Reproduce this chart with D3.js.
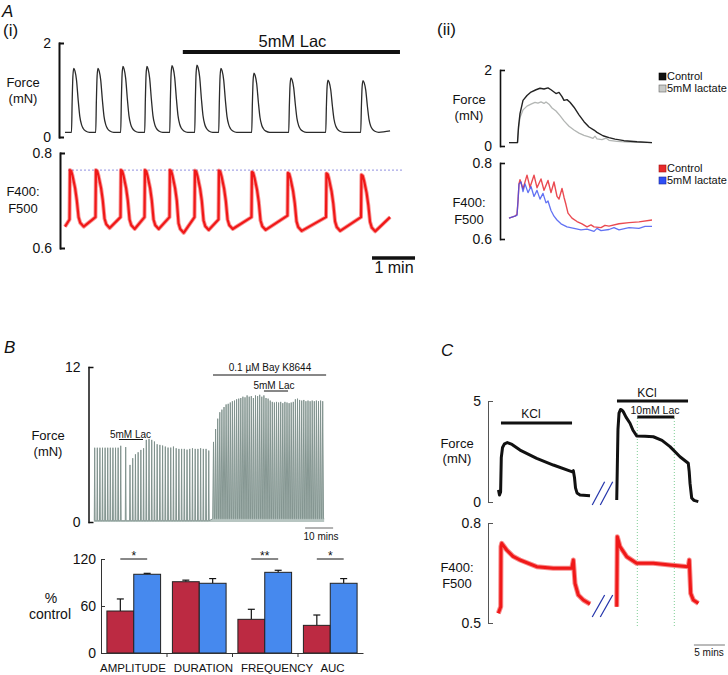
<!DOCTYPE html>
<html><head><meta charset="utf-8">
<script src="https://cdn.jsdelivr.net/npm/d3@7"></script>
<style>body{margin:0;background:#fff}svg{display:block;font-family:"Liberation Sans",Arial,Helvetica,sans-serif}</style>
</head><body><svg id="c" width="728" height="675"></svg>
<script>
// ================= DATA =================
// ---- Panel A(i): force (mN) and F400:F500, time in minutes ----
const aiForceOnsets = [0.151,0.714,1.295,1.853,2.435,3.016,3.574,4.342,5.202,6.063,6.877];
const aiForcePeaks  = [1.46,1.46,1.50,1.50,1.52,1.53,1.46,1.36,1.26,1.21,1.20];
const aiForceBase   = 0.1;
// force pulse shape read from first contraction: [minutes after onset, fraction of peak]
const aiForceShape  = [[0,0],[0.016,0.5],[0.033,0.88],[0.053,1],[0.08,0.96],[0.116,0.82],[0.156,0.5],[0.193,0.25],[0.233,0.12],[0.272,0.06],[0.33,0.02],[0.42,0]];
const aiCaOnsets    = [0.105,0.709,1.291,1.849,2.430,3.012,3.570,4.337,5.174,6.070,6.884];
const aiCaPeaks     = [0.764,0.764,0.764,0.764,0.764,0.763,0.763,0.760,0.758,0.757,0.754];
const aiCaTroughs   = [0.645,0.642,0.640,0.640,0.632,0.638,0.640,0.638,0.636,0.636,0.635];
const aiCaPreOnset  = [0.660,0.665,0.665,0.665,0.665,0.665,0.660,0.665,0.668,0.665,0.665];
const aiCaStart     = 0.645, aiCaEnd = 0.665, aiTraceEnd = 7.56;
const aiCaDecay     = [[0.01,0],[0.04,-0.002],[0.07,-0.012],[0.13,-0.038],[0.17,-0.064]]; // relative to peak
const aiCaFall      = [[0.21,0.02],[0.25,0.008],[0.33,0]];                                 // relative to trough
const aiRefLevel    = 0.764;
const aiLacBar      = [2.74,7.79];
const aiScaleBar    = [7.14,8.14];

// ---- Panel A(ii): single contraction, time in s ----
const aiiForceCtrl = [[0,0.09],[8.5,0.09],[9.5,0.5],[11,0.85],[14,1.2],[18,1.33],[22,1.42],[27,1.48],[31,1.52],[35,1.5],[39,1.53],[42,1.48],[45,1.42],[47,1.38],[50,1.41],[53,1.3],[55,1.2],[58,1.22],[61,1.15],[65,1.02],[70,0.82],[75,0.64],[80,0.5],[85,0.42],[88,0.36],[94,0.27],[100,0.22],[106,0.18],[115,0.14],[128,0.11],[143,0.09]];
const aiiForceLac  = [[0,0.09],[8.5,0.09],[9.5,0.45],[11,0.75],[14,0.95],[18,1.05],[22,1.1],[26,1.15],[29,1.13],[32,1.16],[35,1.12],[37,1.16],[40,1.1],[43,1.0],[47,0.92],[51,0.8],[55,0.66],[60,0.52],[65,0.42],[70,0.34],[75,0.28],[80,0.24],[84,0.2],[86,0.26],[88,0.19],[93,0.17],[97,0.21],[100,0.15],[108,0.12],[120,0.1],[143,0.09]];
const aiiCaCtrl    = [[0,0.655],[6,0.66],[8,0.665],[9,0.70],[10,0.745],[11,0.756],[14,0.732],[18,0.768],[21,0.736],[25,0.768],[28,0.735],[32,0.758],[35,0.728],[39,0.754],[42,0.722],[45,0.75],[48,0.712],[50,0.705],[53,0.733],[55,0.71],[57,0.69],[59,0.668],[63,0.655],[68,0.646],[73,0.64],[78,0.632],[82,0.637],[85,0.632],[92,0.63],[96,0.636],[100,0.634],[110,0.64],[120,0.643],[130,0.645],[143,0.65]];
const aiiCaLac     = [[0,0.655],[8,0.662],[9,0.70],[10,0.745],[12,0.75],[14,0.725],[16,0.745],[19,0.722],[22,0.738],[25,0.712],[28,0.728],[31,0.705],[34,0.72],[37,0.695],[39,0.70],[42,0.675],[45,0.66],[48,0.65],[52,0.64],[58,0.632],[65,0.628],[72,0.624],[78,0.626],[85,0.62],[88,0.628],[92,0.622],[100,0.625],[105,0.63],[110,0.624],[120,0.63],[130,0.628],[136,0.633],[143,0.633]];
const aiiLegendForce = ["Control","5mM lactate"];
const aiiLegendCa    = ["Control","5mM lactate"];

// ---- Panel B: force trace (min) ----
const bCtrlStart = 0.25, bCtrlPeriod = 0.93;
const bCtrlAmps  = [5.75,5.75,5.75,5.75,5.75,5.75,5.75,5.75,5.75,5.75,5.9];
const bLoneTime = 11.32, bLoneAmp = 5.8;
const bLacStart = 12.86, bLacPeriod = 0.97;
const bLacAmps  = [4.42,4.94,5.24,5.4,5.58,5.71,6.36,6.43,6.36,6.23,6.02,5.97,5.92,5.84,5.76,5.76,5.84,5.71,5.66,5.66,5.66,5.6,5.66,5.71,5.66,5.66,5.71,5.66,5.66,5.53];
const bBayStart = 42.68, bBayPeriod = 0.75;
const bBayAmps  = [6.2,7.2,8.0,8.5,8.7,8.9,9.1,9.15,9.25,9.35,9.4,9.5,9.55,9.6,9.7,9.65,9.8,9.7,9.75,9.6,9.8,9.75,9.85,9.7,9.8,9.6,9.55,9.4,9.3,9.25,9.3,9.25,9.3,9.2,9.3,9.25,9.2,9.25,9.3,9.5,9.55,9.45,9.4,9.45,9.35,9.4,9.35,9.4,9.35,9.4,9.35,9.4,9.35];
const bBasePre = 0.1, bBaseBay = 0.25;
const bLacBar1 = [8.9,17.5], bBayBar = [42.5,82.9], bLacBar2 = [60.7,69.3], bScaleBar = [75.4,85.4];

// ---- Panel B: summary bars (% control) ----
const barCategories = ["AMPLITUDE","DURATION","FREQUENCY","AUC"];
const barSeries     = ["5mM Lac","Bay K8644 + 5mM Lac"];
const lacMean = [53.6, 91, 43, 35.3];
const lacErr  = [15.4, 2, 12.8, 13.2];
const bayMean = [100.5, 89, 103, 89];
const bayErr  = [1.2, 6, 2.6, 6];
const sigLabels = ["*","","**","*"];
const barTicks = [0,60,120];

// ---- Panel C: KCl contractures (min) ----
const cForce1 = [[0.08,0.6],[0.24,0.35],[0.42,0.5],[0.53,2.2],[0.73,2.7],[1.05,2.88],[1.5,2.94],[2.26,2.85],[3.55,2.57],[6.24,2.16],[8.92,1.83],[11.89,1.5],[12.15,1.55],[12.34,1.2],[12.5,0.7],[12.74,0.45],[13.23,0.35],[14.84,0.31]];
const cForce2 = [[19.15,0.1],[19.23,1.5],[19.35,3.6],[19.52,4.4],[19.76,4.58],[20.0,4.55],[20.21,4.47],[20.65,4.2],[21.29,3.9],[21.77,3.55],[22.37,3.27],[23.71,3.26],[25.05,3.23],[26.45,3.05],[27.74,2.74],[29.35,2.24],[30.69,1.92],[30.84,1.5],[30.97,0.93],[31.24,0.2],[31.61,0.08],[32.31,0.02]];
const cCa1 = [[0.05,0.529],[0.44,0.549],[0.48,0.729],[0.6,0.739],[1.4,0.719],[2.42,0.70],[3.55,0.689],[6.24,0.669],[8.92,0.664],[11.89,0.664],[12.15,0.689],[12.42,0.619],[12.95,0.584],[13.76,0.569],[14.84,0.557]];
const cCa2 = [[19.15,0.549],[19.24,0.759],[19.68,0.729],[20.76,0.699],[22.37,0.679],[25.05,0.679],[27.74,0.674],[30.69,0.669],[30.85,0.689],[31.08,0.589],[31.5,0.569],[32.31,0.559]];
const cKcl1 = [0.48,11.94], cKcl2 = [19.19,30.65], cLac = [22.47,28.44], cScaleBar = [31.6,36.6];

// ================= DRAWING =================
const svg = d3.select("#c");
const INK = "#111";
function txt(x,y,s,o={}){
  return svg.append("text").attr("x",x).attr("y",y)
    .attr("text-anchor",o.anchor||"middle").attr("font-size",o.size||13)
    .attr("font-style",o.italic?"italic":null).attr("fill",o.fill||INK).text(s);
}
function hbar(xs,range,y,w,color){
  svg.append("line").attr("x1",xs(range[0])).attr("x2",xs(range[1])).attr("y1",y).attr("y2",y)
    .attr("stroke",color||INK).attr("stroke-width",w);
}
function bracket(y,x,vals,fmt,o={}){
  const ax = d3.axisLeft(y).tickValues(vals).tickSize(-(o.tick||5)).tickSizeOuter(0)
    .tickPadding(o.pad||8).tickFormat(fmt);
  const g = svg.append("g").attr("transform",`translate(${x},0)`).call(ax);
  g.select(".domain").attr("stroke",o.color||INK).attr("stroke-width",o.w||2).attr("stroke-linecap","square");
  g.selectAll(".tick line").attr("stroke",o.color||INK).attr("stroke-width",o.w||2);
  g.selectAll("text").attr("font-size",o.fs||14).attr("fill",INK).attr("font-family",null);
  return g;
}
function trace(data,xs,ys,color,w,op,curve){
  svg.append("path").datum(data).attr("fill","none").attr("stroke",color).attr("stroke-width",w)
    .attr("stroke-linejoin","round").attr("opacity",op==null?1:op)
    .attr("d",d3.line().curve(curve||d3.curveLinear).x(d=>xs(d[0])).y(d=>ys(d[1])));
}
const f1 = d3.format(".1f"), f0 = d3.format("d");

// ----- A(i) -----
txt(2,17,"A",{anchor:"start",size:17,italic:true});
txt(3,36,"(i)",{anchor:"start",size:17});
const xAi = d3.scaleLinear().domain([0,8]).range([65,409]);
const yAiF = d3.scaleLinear().domain([0,2]).range([137,43]);
const yAiC = d3.scaleLinear().domain([0.6,0.8]).range([248,153]);
bracket(yAiF,59,[0,2],f0);
bracket(yAiC,60,[0.6,0.8],f1);
txt(23,87,"Force"); txt(23,103,"(mN)");
txt(23,196,"F400:"); txt(23,213,"F500");
hbar(xAi,aiLacBar,52,4);
txt((xAi(aiLacBar[0])+xAi(aiLacBar[1]))/2+1,47,"5mM Lac",{size:16.5});
// force trace
const aiForce = [[0,aiForceBase]];
aiForceOnsets.forEach((t0,i)=>aiForceShape.forEach(([dt,f])=>aiForce.push([t0+dt,aiForceBase+f*(aiForcePeaks[i]-aiForceBase)])));
aiForce.push([aiTraceEnd,aiForceBase+0.03]);
trace(aiForce,xAi,yAiF,"#2b2b2b",1.3,1,d3.curveMonotoneX);
// calcium trace
const aiCa = [[0,aiCaStart]];
aiCaOnsets.forEach((t0,i)=>{
  aiCa.push([t0,aiCaPreOnset[i]]);
  aiCaDecay.forEach(([dt,o])=>aiCa.push([t0+dt,aiCaPeaks[i]+o]));
  aiCaFall.forEach(([dt,o])=>aiCa.push([t0+dt,aiCaTroughs[i]+o]));
});
aiCa.push([aiTraceEnd,aiCaEnd]);
svg.append("line").attr("x1",xAi(0.07)).attr("x2",xAi(7.84)).attr("y1",yAiC(aiRefLevel)).attr("y2",yAiC(aiRefLevel))
  .attr("stroke","#8f8fe0").attr("stroke-width",1).attr("stroke-dasharray","2,2");
trace(aiCa,xAi,yAiC,"#f01818",4,0.45);
trace(aiCa,xAi,yAiC,"#f01818",2.2);
hbar(xAi,aiScaleBar,258,3.5);
txt(394,273,"1 min",{size:16});

// ----- A(ii) -----
txt(437,35,"(ii)",{anchor:"start",size:17});
const xAii = d3.scaleLinear().domain([0,143]).range([509,652]);
const yAiiF = d3.scaleLinear().domain([0,2]).range([146,70]);
const yAiiC = d3.scaleLinear().domain([0.6,0.8]).range([239,163]);
bracket(yAiiF,500,[0,2],f0,{w:1.6});
bracket(yAiiC,500,[0.6,0.8],f1,{w:1.6});
txt(469,104,"Force"); txt(469,120,"(mN)");
txt(469,207,"F400:"); txt(469,224,"F500");
trace(aiiForceLac,xAii,yAiiF,"#b3b6b4",1.3);
trace(aiiForceCtrl,xAii,yAiiF,"#222",1.4);
trace(aiiCaCtrl,xAii,yAiiC,"#e8363e",1.4,0.9);
trace(aiiCaLac,xAii,yAiiC,"#3b4ff0",1.3,0.8);
const legF = [["#111","#000"],["#c8cac8","#666"]], legC = [["#e82a2a","#a01010"],["#2f4ff5","#1a2a99"]];
aiiLegendForce.forEach((s,i)=>{
  svg.append("rect").attr("x",659).attr("y",73+i*12).attr("width",7).attr("height",7).attr("fill",legF[i][0]).attr("stroke",legF[i][1]).attr("stroke-width",0.6);
  txt(667,80+i*12,s,{anchor:"start",size:11});
});
aiiLegendCa.forEach((s,i)=>{
  svg.append("rect").attr("x",659).attr("y",165+i*12).attr("width",7).attr("height",7).attr("fill",legC[i][0]).attr("stroke",legC[i][1]).attr("stroke-width",0.6);
  txt(667,172+i*12,s,{anchor:"start",size:11});
});

// ----- B trace -----
txt(4,353,"B",{anchor:"start",size:17,italic:true});
const xB = d3.scaleLinear().domain([0,80]).range([94,318]);
const yB = d3.scaleLinear().domain([0,12]).range([522,367]);
bracket(yB,88.5,[0,12],f0,{w:1.5,pad:8});
txt(48,440,"Force"); txt(48,456,"(mN)");
const bPts = [[0,bBasePre]];
function addSpike(t,a,base,hw){ bPts.push([t-hw,base],[t,a],[t+hw,base]); }
bCtrlAmps.forEach((a,i)=>addSpike(bCtrlStart+i*bCtrlPeriod,a,bBasePre,0.15));
addSpike(bLoneTime,bLoneAmp,bBasePre,0.15);
bLacAmps.forEach((a,i)=>addSpike(bLacStart+i*bLacPeriod,a,bBasePre,0.15));
bBayAmps.forEach((a,i)=>addSpike(bBayStart+i*bBayPeriod,a,bBaseBay,0.3));
bPts.push([82.2,bBaseBay]);
svg.append("path").datum(bPts).attr("fill","#b7c5c1").attr("stroke","none")
  .attr("d",d3.area().x(d=>xB(d[0])).y0(yB(0)+0).y1(d=>yB(d[1])));
trace(bPts,xB,yB,"#7d8f8a",0.9);
hbar(xB,bLacBar1,439.5,1);
txt(130.5,438,"5mM Lac",{size:10});
hbar(xB,bBayBar,375,1);
txt(270,371,"0.1 \u00b5M Bay K8644",{size:10});
hbar(xB,bLacBar2,391,1);
txt(274,389,"5mM Lac",{size:10});
hbar(xB,bScaleBar,528,1,"#666");
txt(321,540,"10 mins",{size:10});

// ----- B bars -----
const yBar = d3.scaleLinear().domain([0,120]).range([653,559]);
const xBar = d3.scaleBand().domain(barCategories).range([101,363]);
const xSer = d3.scaleBand().domain(barSeries).range([0,xBar.bandwidth()]).paddingOuter(0.22);
const barColors = ["#bc2a42","#4689ee"];
const means = [lacMean,bayMean], errs = [lacErr,bayErr];
barSeries.forEach((s,k)=>{
  barCategories.forEach((c,i)=>{
    const x0 = xBar(c)+xSer(s), bw = xSer.bandwidth(), cx = x0+bw/2;
    const top = yBar(means[k][i]), et = yBar(means[k][i]+errs[k][i]);
    svg.append("line").attr("x1",cx).attr("x2",cx).attr("y1",top).attr("y2",et).attr("stroke",INK).attr("stroke-width",1.2);
    svg.append("line").attr("x1",cx-3.5).attr("x2",cx+3.5).attr("y1",et).attr("y2",et).attr("stroke",INK).attr("stroke-width",1.2);
    svg.append("rect").attr("x",x0).attr("y",top).attr("width",bw).attr("height",yBar(0)-top)
      .attr("fill",barColors[k]).attr("stroke","#222").attr("stroke-width",1);
  });
});
const gyb = svg.append("g").attr("transform","translate(101,0)")
  .call(d3.axisLeft(yBar).tickValues(barTicks).tickSize(-4).tickSizeOuter(0).tickPadding(5).tickFormat(f0));
gyb.selectAll("text").attr("font-size",14).attr("fill",INK).attr("font-family",null);
gyb.selectAll("path,line").attr("stroke","#333");
const gxb = svg.append("g").attr("transform","translate(0,653)")
  .call(d3.axisBottom(d3.scaleLinear().domain([0,4]).range([101,363])).tickValues([1,2,3]).tickSize(4).tickSizeOuter(0).tickFormat(""));
gxb.selectAll("path,line").attr("stroke","#333");
sigLabels.forEach((s,i)=>{
  if(!s) return;
  const c = barCategories[i];
  const xa = xBar(c)+xSer(barSeries[0])+xSer.bandwidth()/2, xb2 = xBar(c)+xSer(barSeries[1])+xSer.bandwidth()/2;
  svg.append("line").attr("x1",xa).attr("x2",xb2).attr("y1",yBar(120)).attr("y2",yBar(120)).attr("stroke",INK).attr("stroke-width",1);
  txt((xa+xb2)/2,560,s,{size:12});
});
txt(51,603,"%",{size:14}); txt(50,619,"control",{size:14});
const lab = svg.append("text").attr("x",xBar.range()[0]-1).attr("y",672).attr("font-size",11.5).attr("fill",INK);
barCategories.forEach((c,i)=>lab.append("tspan").attr("dx",i?8:0).text(c));

// ----- C -----
txt(441,356,"C",{anchor:"start",size:17,italic:true});
const xC = d3.scaleLinear().domain([0,30]).range([498,684]);
const yCF = d3.scaleLinear().domain([0,5]).range([502,401]);
const yCC = d3.scaleLinear().domain([0.5,0.8]).range([623,523]);
bracket(yCF,488,[0,5],f0,{w:1,color:"#555",pad:7});
bracket(yCC,488,[0.5,0.8],f1,{w:1,color:"#555",pad:7});
txt(457,448,"Force"); txt(457,463,"(mN)");
txt(457,572,"F400:"); txt(457,588,"F500");
// lactate guides
cLac.forEach(t=>svg.append("line").attr("x1",xC(t)).attr("x2",xC(t)).attr("y1",418).attr("y2",627)
  .attr("stroke","#7fcf95").attr("stroke-width",1).attr("stroke-dasharray","1,2"));
trace(cForce1,xC,yCF,"#111",3);
trace(cForce2,xC,yCF,"#111",3);
trace(cCa1,xC,yCC,"#f01818",5,0.5);
trace(cCa1,xC,yCC,"#f01818",3);
trace(cCa2,xC,yCC,"#f01818",5,0.5);
trace(cCa2,xC,yCC,"#f01818",3);
hbar(xC,cKcl1,423,3);
txt(531,418,"KCl",{size:12});
hbar(xC,cKcl2,401,3);
txt(647,396.5,"KCl",{size:12});
hbar(xC,cLac,417,3);
txt(655,413.5,"10mM Lac",{size:10.5});
// axis-break marks
const brk = [[15.2,17.2],[16.5,18.5]];
brk.forEach(([a,b])=>{
  svg.append("line").attr("x1",xC(a)).attr("x2",xC(b)).attr("y1",yCF(-0.15)).attr("y2",yCF(1.0)).attr("stroke","#2233aa").attr("stroke-width",1.2);
  svg.append("line").attr("x1",xC(a)).attr("x2",xC(b)).attr("y1",yCC(0.518)).attr("y2",yCC(0.584)).attr("stroke","#2233aa").attr("stroke-width",1.2);
});
hbar(xC,cScaleBar,645,1,"#777");
txt(709,656,"5 mins",{size:10});
</script></body></html>
